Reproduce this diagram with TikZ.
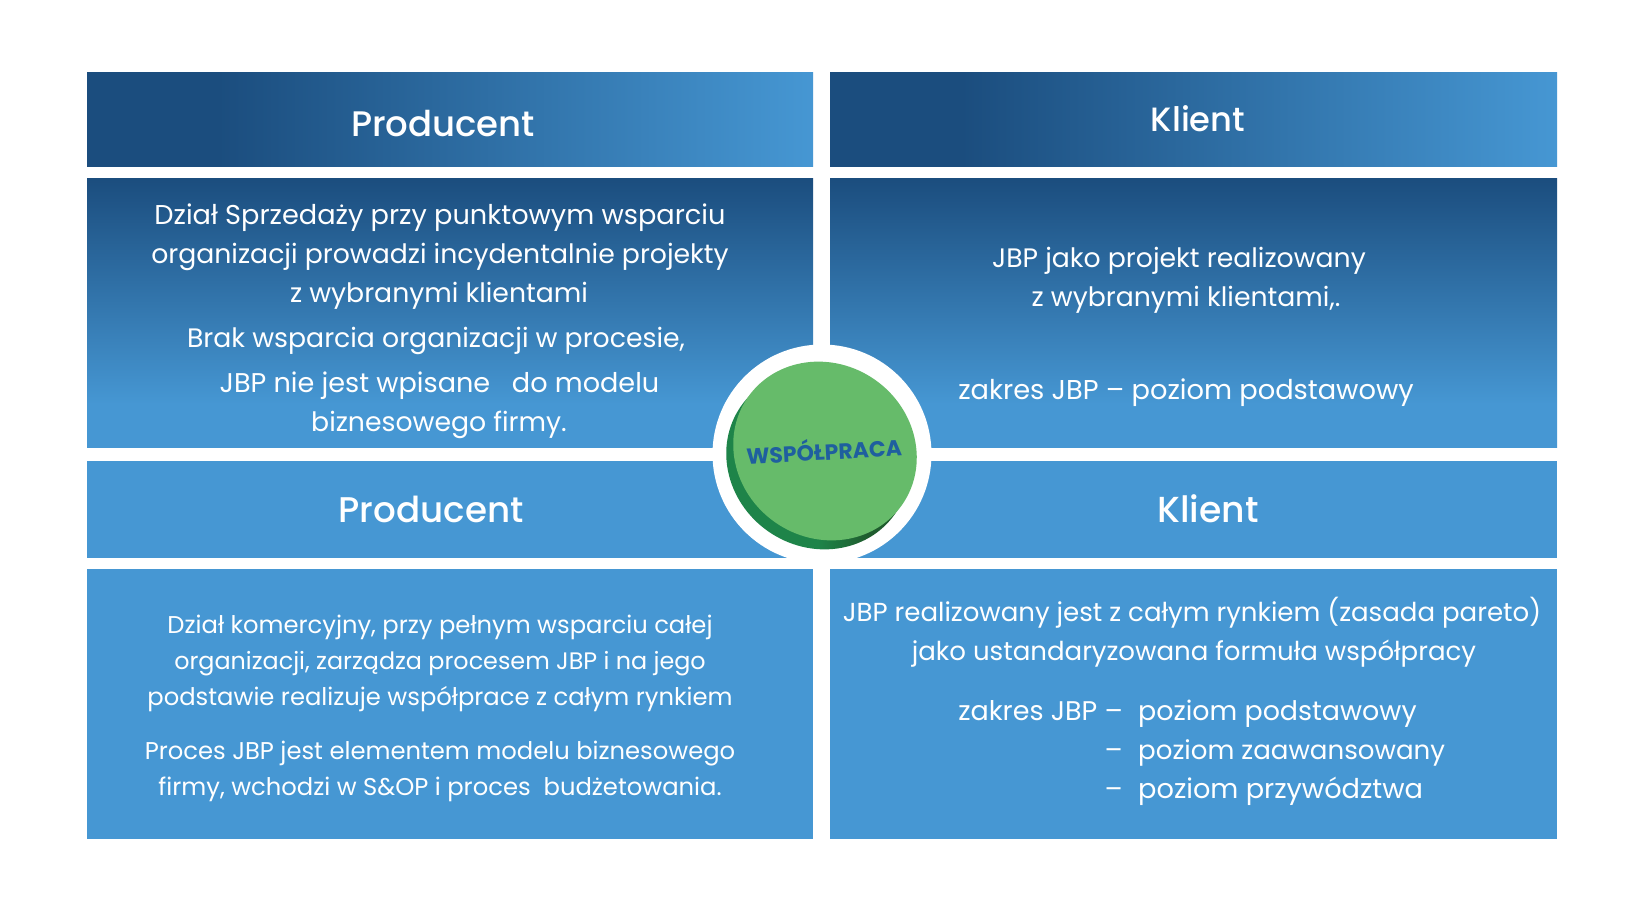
\documentclass[tikz,border=0pt]{standalone}
\usepackage{fontspec}
\setmainfont{Poppins}
\newfontfamily\headfont{Poppins Medium}
\usetikzlibrary{positioning}
\definecolor{dk}{HTML}{1B4D7E}
\definecolor{lt}{HTML}{4697D3}
\definecolor{grn}{HTML}{66BB6A}
\definecolor{dgrn}{HTML}{1E8449}
\definecolor{ddgrn}{HTML}{1F5C2E}
\definecolor{wsp}{HTML}{1F5F9F}
\pgfdeclarehorizontalshading{hgrad}{100bp}{color(0bp)=(dk); color(25bp)=(dk); color(34bp)=(dk); color(75bp)=(lt); color(100bp)=(lt)}
\pgfdeclareverticalshading{vgrad}{100bp}{color(0bp)=(lt); color(25bp)=(lt); color(33bp)=(lt); color(75bp)=(dk); color(100bp)=(dk)}
\pgfdeclarehorizontalshading{dshade}{100bp}{color(0bp)=(dgrn); color(25bp)=(dgrn); color(50bp)=(dgrn); color(62bp)=(ddgrn); color(100bp)=(ddgrn)}
\tikzset{
  x=1pt,y=-1pt,
  panel/.style={draw=none,inner sep=0,minimum width=726pt,anchor=north west},
  hdr/.style={panel,minimum height=94pt,shading=hgrad,shading angle=0},
  body/.style={panel,minimum height=269pt,shading=vgrad,shading angle=0},
  flat/.style={panel,fill=lt},
  big/.style={text=white,inner sep=0,anchor=base,font=\fontsize{#1}{30}\selectfont},
  big/.default=26.7,
  small/.style={text=white,inner sep=0,anchor=base,font=\fontsize{#1}{28}\selectfont},
  small/.default=24.25,
  head/.style={text=white,inner sep=0,anchor=base,font=\fontsize{#1}{40}\selectfont\headfont},
}
\begin{document}
\begin{tikzpicture}
\useasboundingbox (0,0) rectangle (1641,915);
\fill[white] (0,0) rectangle (1641,915);
% panels
\node[hdr] (h1) at (87,72) {};
\node[hdr,minimum width=727pt] (h2) at (830,72) {};
\node[body] (b1) at (87,178) {};
\node[body,minimum width=727pt] (b2) at (830,178) {};
\node[flat,minimum height=97pt,minimum width=727pt] (h3) at (87,461) {};
\node[flat,minimum height=97pt,minimum width=727pt] (h4) at (830,461) {};
\node[flat,minimum height=270pt] (b3) at (87,569) {};
\node[flat,minimum height=270pt,minimum width=727pt] (b4) at (830,569) {};
% centre disc
\node[circle,fill=white,minimum size=219pt,inner sep=0] (ring) at (822,454) {};
\fill[white] (87,557.5) rectangle (1557,569);
\path[shading=dshade,shading angle=0,rotate around={-35:(818,460)}] (818,460) ellipse [x radius=94, y radius=87];
\fill[grn,rotate around={-35:(825,451)}] (825,451) ellipse [x radius=94, y radius=87];
\node[text=wsp,inner sep=0,rotate=3,font=\fontsize{22}{26}\selectfont\bfseries] (w) at (824,449.5) {WSPÓŁPRACA};
% headers
\node[head=35.5] (t1) at (443,137) {Producent};
\node[head=33.7] (t2) at (1198,131.5) {Klient};
\node[head=35.7] (t3) at (431,522) {Producent};
\node[head=36.2] (t4) at (1208,522.5) {Klient};
% top-left
\node[big=27.2] (a1) at (440,224.5) {Dział Sprzedaży przy punktowym wsparciu};
\node[big] (a2) at (440,263.5) {organizacji prowadzi incydentalnie projekty};
\node[big] (a3) at (439,302.5) {z wybranymi klientami};
\node[big] (a4) at (436,347.5) {Brak wsparcia organizacji w procesie,};
\node[big=27.1] (a5) at (439.5,392.5) {JBP nie jest wpisane \ \ do modelu};
\node[big] (a6) at (439,431.5) {biznesowego firmy.};
% top-right
\node[big] (c1) at (1179,267) {JBP jako projekt realizowany};
\node[big] (c2) at (1186,306) {z wybranymi klientami,.};
\node[big=27.25] (c3) at (1186,399) {zakres JBP – poziom podstawowy};
% bottom-left
\node[small] (d1) at (440,633) {Dział komercyjny, przy pełnym wsparciu całej};
\node[small=23.85] (d2) at (440,669) {organizacji, zarządza procesem JBP i na jego};
\node[small] (d3) at (440,705) {podstawie realizuje współprace z całym rynkiem};
\node[small] (d4) at (440,759) {Proces JBP jest elementem modelu biznesowego};
\node[small] (d5) at (440,795) {firmy, wchodzi w S\&OP i proces \ budżetowania.};
% bottom-right
\node[big=26.05] (e1) at (1192,621) {JBP realizowany jest z całym rynkiem (zasada pareto)};
\node[big=26.05] (e2) at (1194,660) {jako ustandaryzowana formuła współpracy};
\node[big=27,anchor=base east] (e3) at (1123,720) {zakres JBP –};
\node[big=26.9,anchor=base west] (e4) at (1138,720) {poziom podstawowy};
\node[big,anchor=base east] (e5) at (1123,759) {–};
\node[big=26.1,anchor=base west] (e6) at (1138,759) {poziom zaawansowany};
\node[big,anchor=base east] (e7) at (1123,798) {–};
\node[big=27.2,anchor=base west] (e8) at (1138,798) {poziom przywództwa};
\end{tikzpicture}
\end{document}
